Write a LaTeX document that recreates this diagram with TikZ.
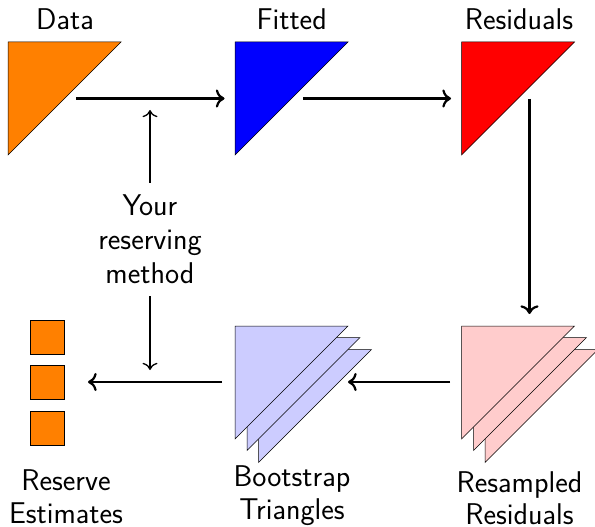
\documentclass[tikz,border=0pt]{standalone}
\usepackage{fontspec}
\usetikzlibrary{arrows.meta}
\newcommand{\rtri}[3]{\draw[trishape, fill=#3] (#1,#2) -- ++(113,0) -- ++(-113,113) -- cycle;}
\begin{document}
\begin{tikzpicture}[x=1pt,y=-1pt,
  lbl/.style={font=\sffamily\fontsize{30}{32.5}\selectfont, inner sep=0pt, align=center},
  flow/.style={-{To[scale=1.35]}, line width=2.2pt},
  thinflow/.style={-{To[scale=1.6]}, line width=1.3pt},
  trishape/.style={draw=black, line width=0.5pt},
  est/.style={draw=black, fill=orange, line width=0.5pt, minimum size=34pt, inner sep=0pt}]
\useasboundingbox (0,0) rectangle (595,527);
% top row triangles
\rtri{8}{42}{orange}
\rtri{235}{42}{blue}
\rtri{461.5}{42}{red}
% resampled stack
\rtri{485}{349.5}{red!20}
\rtri{473.5}{337.5}{red!20}
\rtri{461.5}{326}{red!20}
% bootstrap stack
\rtri{258.5}{349.5}{blue!20}
\rtri{247}{337.5}{blue!20}
\rtri{235}{326}{blue!20}
% estimates
\node[est] (e1) at (47.5,337) {};
\node[est] (e2) at (47.5,382.5) {};
\node[est] (e3) at (47.5,428) {};
% labels
\node[lbl, anchor=base] (dataL) at (65,29.3) {Data};
\node[lbl, anchor=base] (fitL) at (291.7,29.3) {Fitted};
\node[lbl, anchor=base] (resL) at (519,29.3) {Residuals};
\node[lbl, anchor=north] (estL) at (66,469.5) {Reserve\\Estimates};
\node[lbl, anchor=north] (btL) at (292,465.5) {Bootstrap\\Triangles};
\node[lbl, anchor=north] (rsL) at (519.5,471) {Resampled\\Residuals};
\node[lbl, font=\sffamily\fontsize{30}{34}\selectfont, inner ysep=12pt] (method) at (150,239.4) {Your\\reserving\\method};
% connector ends
\coordinate (dataOut) at (76,98.5);
\coordinate (fitIn) at (224.5,98.5);
\coordinate (fitOut) at (303,98.5);
\coordinate (resIn) at (451,98.5);
\coordinate (resOut) at (529.5,99);
\coordinate (rsIn) at (529.5,314);
\coordinate (rsOut) at (450,382);
\coordinate (btIn) at (348,382);
\coordinate (btOut) at (222,382);
\coordinate (estIn) at (88,382);
\coordinate (mUp) at (150,110);
\coordinate (mDown) at (150,370);
% connectors
\draw[flow] (dataOut) -- (fitIn);
\draw[flow] (fitOut) -- (resIn);
\draw[flow] (resOut) -- (rsIn);
\draw[flow] (rsOut) -- (btIn);
\draw[flow] (btOut) -- (estIn);
\draw[thinflow] (method.north) -- (mUp);
\draw[thinflow] (method.south) -- (mDown);
\end{tikzpicture}
\end{document}
